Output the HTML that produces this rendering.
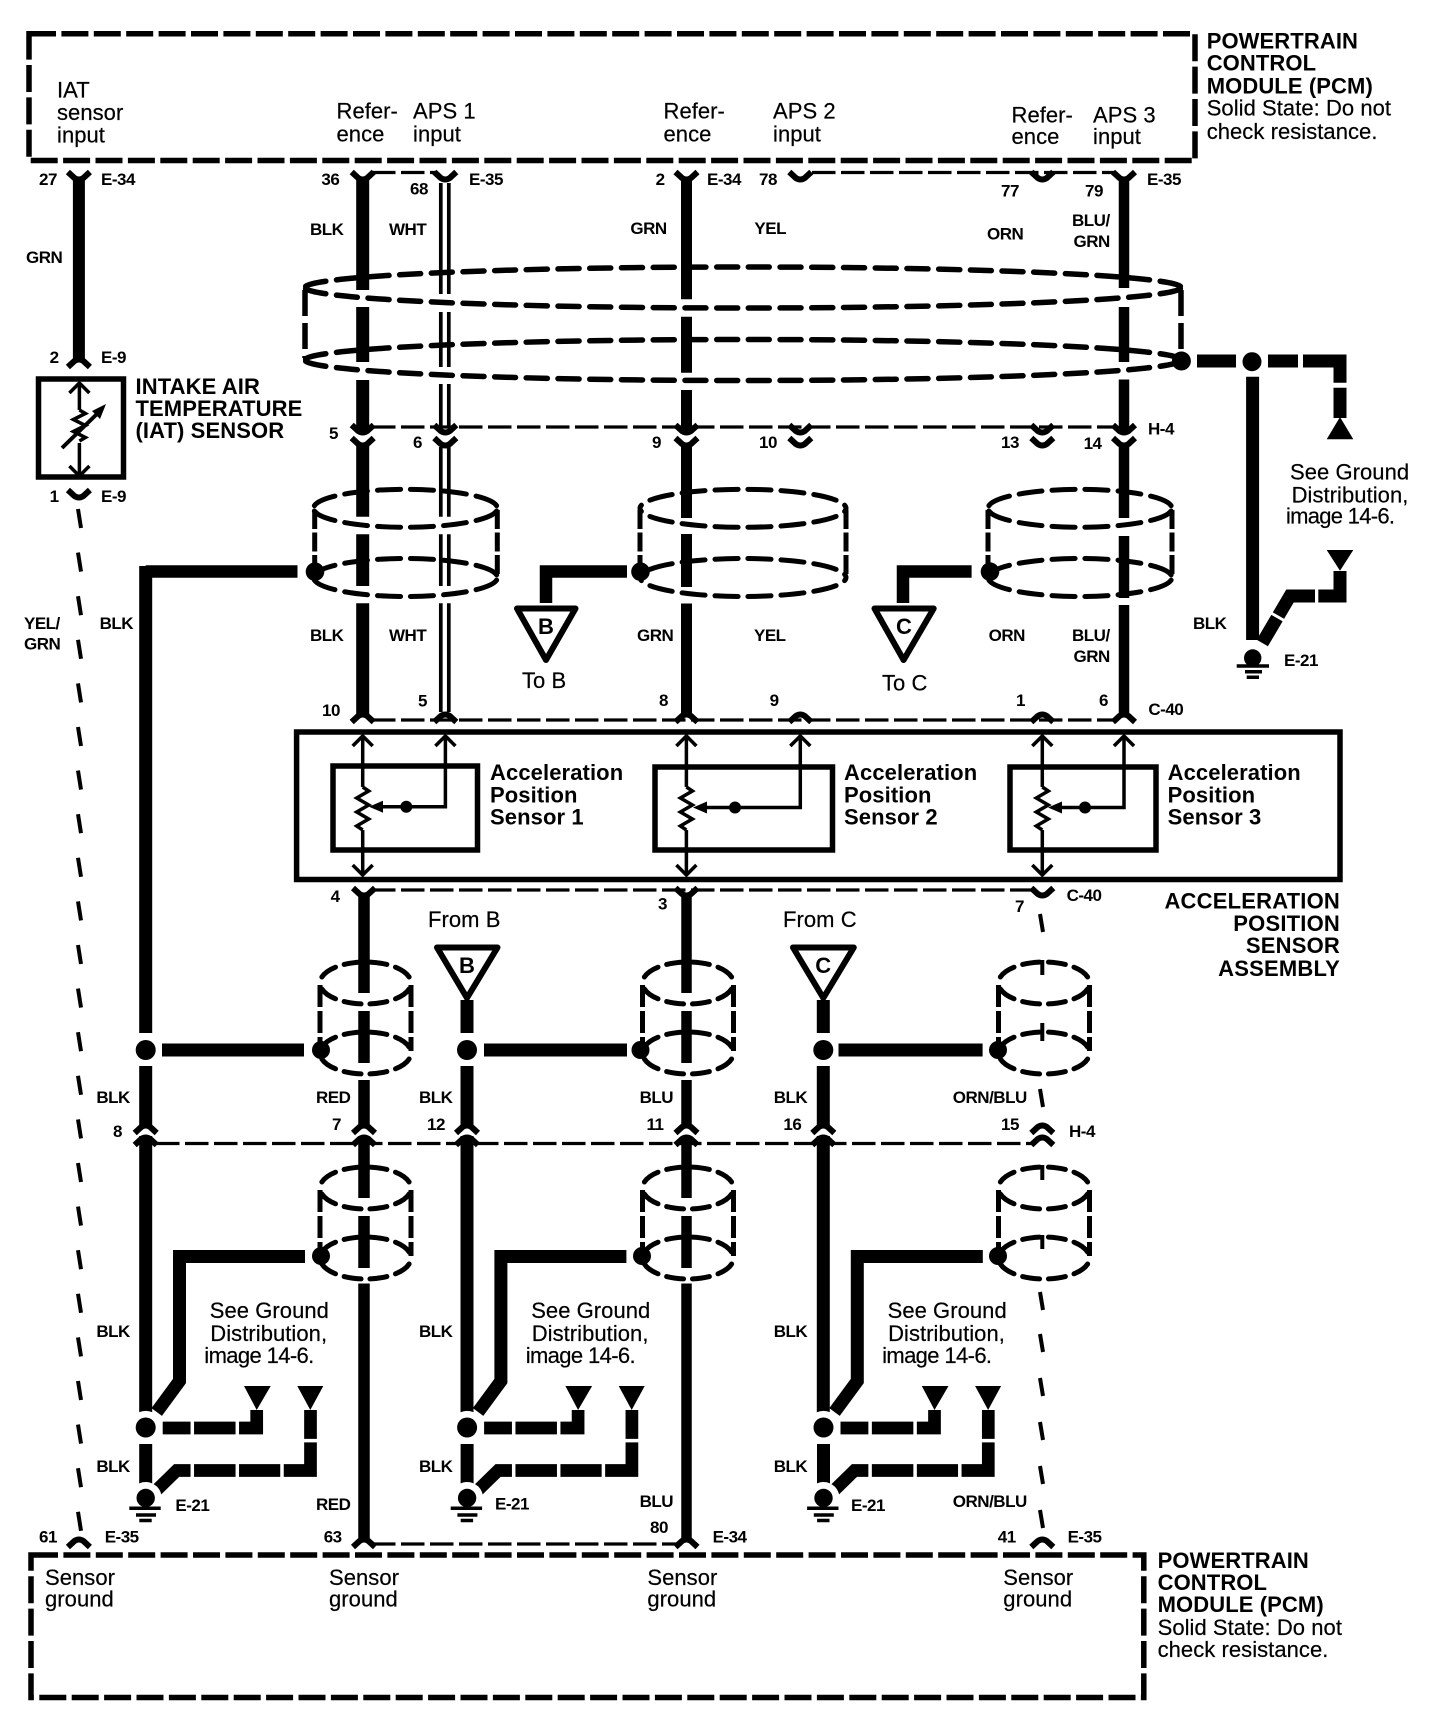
<!DOCTYPE html>
<html><head><meta charset="utf-8"><style>
html,body{margin:0;padding:0;background:#fff}
svg{display:block}
text{font-family:"Liberation Sans",Arial,sans-serif;fill:#000}
.r{font-size:22px;letter-spacing:.05px;stroke:#000;stroke-width:.2px}
.b{font-size:22px;font-weight:bold;letter-spacing:.1px}
.s{font-size:17px;font-weight:bold;letter-spacing:-.5px}
.e{text-anchor:end;letter-spacing:.2px}
.m{text-anchor:middle}
</style></head><body>
<svg xmlns="http://www.w3.org/2000/svg" width="1440" height="1728" viewBox="0 0 1440 1728">
<defs>
<path id="u" d="M-11 -1L-4.500 5Q0 8 4.500 5L11 -1" fill="none" stroke="#000" stroke-width="6"/>
<path id="n" d="M-11 1L-4.500 -5Q0 -8 4.500 -5L11 1" fill="none" stroke="#000" stroke-width="6"/>
<path id="au" d="M-10 10L0 0L10 10" fill="none" stroke="#000" stroke-width="3.500"/>
<path id="ad" d="M-10 -10L0 0L10 -10" fill="none" stroke="#000" stroke-width="3.500"/>
<path id="z" d="M0 0l6 4l-12 7l12 7l-12 7l12 7l-12 7l6 4" fill="none" stroke="#000" stroke-width="3.500"/>
<path id="ea" d="M0 -19A92 19 0 0 1 92 0M0 -19A92 19 0 0 0 -92 0M0 19A92 19 0 0 0 92 0M0 19A92 19 0 0 1 -92 0" fill="none" stroke="#000" stroke-width="5" stroke-linecap="round" stroke-dasharray="23 10" stroke-dashoffset="-5"/>
<path id="eb" d="M0 -19A103 19 0 0 1 103 0M0 -19A103 19 0 0 0 -103 0M0 19A103 19 0 0 0 103 0M0 19A103 19 0 0 1 -103 0" fill="none" stroke="#000" stroke-width="5" stroke-linecap="round" stroke-dasharray="23 10" stroke-dashoffset="-5"/>
<path id="es" d="M0 -21A45.500 21 0 0 1 45.500 0M0 -21A45.500 21 0 0 0 -45.500 0M0 21A45.500 21 0 0 0 45.500 0M0 21A45.500 21 0 0 1 -45.500 0" fill="none" stroke="#000" stroke-width="5" stroke-linecap="round" stroke-dasharray="17 9" stroke-dashoffset="-4.500"/>
<path id="el" d="M0 -20.500A438 20.500 0 0 1 438 0M0 -20.500A438 20.500 0 0 0 -438 0M0 20.500A438 20.500 0 0 0 438 0M0 20.500A438 20.500 0 0 1 -438 0" fill="none" stroke="#000" stroke-width="5.500" stroke-linecap="round" stroke-dasharray="21 10.700" stroke-dashoffset="-5.400"/>
<g id="cs">
<use href="#es"/><use href="#es" y="70"/>
<path d="M-45.500 2V68M45.500 2V68" fill="none" stroke="#000" stroke-width="5" stroke-dasharray="22 4"/>
</g>
<g id="gnd">
<path d="M305 1256.500H179.500V1381L156.700 1412" fill="none" stroke="#000" stroke-width="13"/>
<path d="M162.700 1428H256.700V1410" fill="none" stroke="#000" stroke-width="12.700"/>
<path d="M156.700 1490L176.700 1470.500H310.500V1410" fill="none" stroke="#000" stroke-width="12.700"/>
<path d="M192.300 1418V1438M237.300 1418V1438M192.300 1460V1480M237.300 1460V1480M282 1460V1480M300 1440.600H320" stroke="#fff" stroke-width="3.500" fill="none"/>
<path d="M244 1386H270.700L256.700 1410ZM297.300 1386H323.300L310.300 1410Z" fill="#000"/>
<circle cx="145.700" cy="1427.500" r="16.600" fill="#fff"/>
<circle cx="145.700" cy="1427.500" r="10" fill="#000"/>
<path d="M145.700 1444V1484" stroke="#000" stroke-width="13"/>
<circle cx="145.700" cy="1498" r="16" fill="#fff"/>
<circle cx="145.700" cy="1498" r="9.200" fill="#000"/>
<path d="M129.300 1508.300H160.700M136 1515H156M139.300 1520.500H151.700" stroke="#000" stroke-width="3.500"/>
</g>
</defs>
<rect width="1440" height="1728" fill="#fff"/>

<!-- PCM boxes -->
<rect x="29" y="33.800" width="1166" height="126.700" fill="none" stroke="#000" stroke-width="5.500" stroke-dasharray="27 5.400"/>
<rect x="31" y="1555" width="1112.800" height="142.500" fill="none" stroke="#000" stroke-width="5.500" stroke-dasharray="27 5.400"/>

<!-- thin dashed connector bars -->
<g fill="none" stroke="#000" stroke-width="3.300" stroke-dasharray="23.500 5.500">
<path d="M372 172.500H436"/>
<path d="M812 172.500H1114"/>
<path d="M372 427H1116"/>
<path d="M372 720H1114"/>
<path d="M372 890H1032"/>
<path d="M156 1143.500H1032"/>
<path d="M372 1544H676"/>
</g>

<!-- big top shield -->
<use href="#el" x="743" y="287.500"/>
<use href="#el" x="743" y="360"/>
<path d="M305 290V358M1181 290V358" fill="none" stroke="#000" stroke-width="5.500" stroke-dasharray="26 7"/>

<!-- wires upper -->
<g fill="none" stroke="#000">
<path d="M78.900 178V360" stroke-width="12"/>
<path d="M362.700 178V290M362.700 307V362M362.700 380V431M362.700 443V516.700M362.700 534.300V586M362.700 603.300V714" stroke-width="13"/>
<path d="M440.800 183V294M440.800 312V367M440.800 384V428M440.800 447V516.700M440.800 534.300V586M440.800 603.300V712M448.800 183V294M448.800 312V367M448.800 384V428M448.800 447V516.700M448.800 534.300V586M448.800 603.300V712" stroke-width="3.700"/>
<path d="M686.500 178V299.300M686.500 316.700V372.700M686.500 390V431M686.500 443V518M686.500 534V587M686.500 603.500V714" stroke-width="11"/>
<path d="M1124 178V288M1124 307V362M1124 379.500V431M1124 443V518M1124 536V598M1124 605V714" stroke-width="10.500"/>
<!-- wires lower -->
<path d="M145.700 566V1033M145.700 1066V1127M145.700 1136V1415" stroke-width="13"/>
<path d="M364 894V993M364 1011V1063M364 1080V1127M364 1136V1198M364 1216V1268M364 1283.500V1540" stroke-width="11.500"/>
<path d="M467 1000V1033M467 1066V1127M467 1136V1415" stroke-width="13"/>
<path d="M686.500 894V993M686.500 1011V1063M686.500 1080V1127M686.500 1136V1198M686.500 1216V1268M686.500 1283.500V1540" stroke-width="10.500"/>
<path d="M823.300 1000V1033M823.300 1066V1127M823.300 1136V1415" stroke-width="13"/>
<!-- thick drain wires -->
<path d="M297.500 571.500H145.700" stroke-width="12.500"/>
<path d="M627 571.500H546V603" stroke-width="12.500"/>
<path d="M971.600 571.500H903V603" stroke-width="12.500"/>
<path d="M162 1050H304M484 1050H627M838.500 1050H982.600" stroke-width="13"/>
</g>

<!-- left and right thin dashed wires -->
<path fill="none" stroke="#000" stroke-width="4" d="M78 509l3 19m-3 24.600l3 19m-3 24.600l3 19m-3 24.600l3 19m-3 24.600l3 19m-3 24.600l3 19m-3 24.600l3 19m-3 24.600l3 19m-3 24.600l3 19m-3 24.600l3 19m-3 24.600l3 19m-3 24.600l3 19m-3 24.600l3 19m-3 24.600l3 19m-3 24.600l3 19m-3 24.600l3 19m-3 24.600l3 19m-3 24.600l3 19m-3 24.600l3 19m-3 24.600l3 19m-3 24.600l3 19m-3 24.600l3 19m-3 24.600l3 19m-3 24.600l3 19"/>
<path fill="none" stroke="#000" stroke-width="4" d="M1040 914L1043 932M1040 1089L1043 1107M1040 1292L1043 1310M1040 1334L1043 1352M1040 1378L1043 1396M1040 1422L1043 1440M1040 1466L1043 1484M1040 1510L1043 1528M1042.300 960V975M1042.300 1023V1041M1042.300 1165V1180M1042.300 1235V1249"/>

<!-- top row cylinders -->
<use href="#ea" x="405.500" y="508.300"/><use href="#ea" x="405.500" y="577.500"/>
<use href="#eb" x="743" y="508.300"/><use href="#eb" x="743" y="577.500"/>
<use href="#ea" x="1080" y="508.300"/><use href="#ea" x="1080" y="577.500"/>
<path d="M314.700 510V576M497.300 510V576M640 510V576M846 510V576M988 510V576M1172 510V576" fill="none" stroke="#000" stroke-width="5" stroke-dasharray="19 3.500"/>
<circle cx="315" cy="571.700" r="9.300" fill="#000"/>
<circle cx="640.500" cy="571.700" r="9.300" fill="#000"/>
<circle cx="990" cy="571.700" r="9.300" fill="#000"/>

<!-- lower cylinders -->
<use href="#cs" x="365.500" y="983"/>
<use href="#cs" x="688" y="983"/>
<use href="#cs" x="1044" y="983"/>
<use href="#cs" x="365.500" y="1188"/>
<use href="#cs" x="688" y="1188"/>
<use href="#cs" x="1044" y="1188"/>
<g fill="#000">
<circle cx="321" cy="1050" r="9"/><circle cx="640.500" cy="1050" r="9"/><circle cx="998" cy="1050" r="9"/>
<circle cx="321" cy="1256" r="9"/><circle cx="642" cy="1256" r="9"/><circle cx="998" cy="1256" r="9"/>
<circle cx="145.700" cy="1050" r="10"/>
<circle cx="467" cy="1050" r="10"/>
<circle cx="823.300" cy="1050" r="10"/>
</g>

<!-- connectors -->
<use href="#u" x="78.900" y="173"/><use href="#u" x="362.700" y="173"/><use href="#u" x="445.300" y="173"/><use href="#u" x="686.500" y="173"/><use href="#u" x="800.300" y="173"/><use href="#u" x="1042.300" y="173"/><use href="#u" x="1124" y="173"/>
<use href="#n" x="78.900" y="366"/>
<use href="#u" x="78.900" y="491"/>
<use href="#u" x="362.700" y="426"/><use href="#u" x="362.700" y="439"/><use href="#u" x="445.300" y="426"/><use href="#u" x="445.300" y="439"/><use href="#u" x="686.500" y="426"/><use href="#u" x="686.500" y="439"/><use href="#u" x="800.300" y="426"/><use href="#u" x="800.300" y="439"/><use href="#u" x="1042.300" y="426"/><use href="#u" x="1042.300" y="439"/><use href="#u" x="1124" y="426"/><use href="#u" x="1124" y="439"/>
<use href="#n" x="362.700" y="721"/><use href="#n" x="445.300" y="721"/><use href="#n" x="686.500" y="721"/><use href="#n" x="800.300" y="721"/><use href="#n" x="1042.300" y="721"/><use href="#n" x="1124" y="721"/>
<use href="#u" x="364" y="889"/><use href="#u" x="686.500" y="889"/><use href="#u" x="1042.300" y="889"/>
<use href="#n" x="145.700" y="1132"/><use href="#n" x="145.700" y="1144"/><use href="#n" x="364" y="1132"/><use href="#n" x="364" y="1144"/><use href="#n" x="467" y="1132"/><use href="#n" x="467" y="1144"/><use href="#n" x="686.500" y="1132"/><use href="#n" x="686.500" y="1144"/><use href="#n" x="823.300" y="1132"/><use href="#n" x="823.300" y="1144"/><use href="#n" x="1042.300" y="1132"/><use href="#n" x="1042.300" y="1144"/>
<use href="#n" x="78.900" y="1546"/><use href="#n" x="364" y="1546"/><use href="#n" x="686.500" y="1546"/><use href="#n" x="1042.300" y="1546"/>

<!-- IAT sensor -->
<rect x="38.500" y="379" width="85" height="98" fill="none" stroke="#000" stroke-width="5.500"/>
<path d="M79.400 383V410M79.400 443V476" stroke="#000" stroke-width="3.500"/>
<use href="#au" x="79.400" y="383"/><use href="#ad" x="79.400" y="476"/>
<path d="M79.400 410l6 3.500l-12 6l12 6l-12 6l12 6l-6 3.500" fill="none" stroke="#000" stroke-width="3.500"/>
<path d="M62 448L101 410" stroke="#000" stroke-width="4"/>
<path d="M106 404L92 411L100 419Z" fill="#000"/>

<!-- sensor assembly -->
<rect x="296.600" y="732" width="1043.400" height="147.500" fill="none" stroke="#000" stroke-width="5.500"/>
<rect x="333" y="766" width="144.500" height="84" fill="none" stroke="#000" stroke-width="5.500"/>
<rect x="655" y="767" width="177.500" height="83" fill="none" stroke="#000" stroke-width="5.500"/>
<rect x="1010" y="767" width="146" height="83" fill="none" stroke="#000" stroke-width="5.500"/>
<g fill="none" stroke="#000" stroke-width="3.500">
<path d="M362.700 736V787M362.700 830V875M445.400 736V806.700H376"/>
<path d="M686.400 736V787M686.400 830V875M800.300 736V807.500H700"/>
<path d="M1042.300 736V787M1042.300 830V875M1124 736V807.500H1056"/>
</g>
<use href="#z" x="362.700" y="787"/><use href="#z" x="686.400" y="787"/><use href="#z" x="1042.300" y="787"/>
<use href="#au" x="362.700" y="736"/><use href="#au" x="445.400" y="736"/><use href="#au" x="686.400" y="736"/><use href="#au" x="800.300" y="736"/><use href="#au" x="1042.300" y="736"/><use href="#au" x="1124" y="736"/>
<use href="#ad" x="362.700" y="875"/><use href="#ad" x="686.400" y="875"/><use href="#ad" x="1042.300" y="875"/>
<g fill="#000">
<path d="M369 806.700L383 800.700V812.700Z"/><path d="M693 807.500L707 801.500V813.500Z"/><path d="M1048 807.500L1062 801.500V813.500Z"/>
<circle cx="406.300" cy="806.700" r="6"/><circle cx="735" cy="807.500" r="6"/><circle cx="1085" cy="807.500" r="6"/>
</g>

<!-- off-page triangles -->
<g fill="#fff" stroke="#000" stroke-width="6" stroke-linejoin="round">
<path d="M517 608.500H575.500L546 660Z"/>
<path d="M874.500 608.500H933.700L903.600 660Z"/>
<path d="M437 947.500H497.500L467 998Z"/>
<path d="M793 947.500H853.800L823.300 998Z"/>
</g>

<!-- right top ground -->
<g fill="none" stroke="#000">
<path d="M1197 361H1236M1268 361H1298M1303 361H1340V382.700M1340 387.700V418" stroke-width="13"/>
<path d="M1252.600 376.700V640" stroke-width="13"/>
<path d="M1340 571V596H1318.300M1315 596H1290L1262.300 643" stroke-width="13"/>
<path d="M1271 613L1285 621" stroke="#fff" stroke-width="3"/>
</g>
<g fill="#000">
<circle cx="1181.400" cy="361" r="9.500"/>
<circle cx="1252" cy="361.700" r="9.500"/>
<path d="M1340 417L1353.300 439.300H1326.700Z"/>
<path d="M1326.700 550H1353.300L1340 570.700Z"/>
</g>
<circle cx="1252.700" cy="658" r="16.500" fill="#fff"/>
<circle cx="1252.700" cy="658" r="8.700" fill="#000"/>
<path d="M1236.700 666H1269M1245 671.700H1262M1246.700 677.300H1259" stroke="#000" stroke-width="3.500"/>

<!-- ground groups -->
<use href="#gnd"/>
<use href="#gnd" transform="translate(321.400 0)"/>
<use href="#gnd" transform="translate(677.800 0)"/>

<!-- regular text -->
<g class="r">
<text x="57" y="97.400">IAT</text><text x="57" y="120">sensor</text><text x="57" y="142.500">input</text>
<text x="336.500" y="118.700">Refer-</text><text x="336.500" y="141.500">ence</text>
<text x="413" y="118.700">APS 1</text><text x="413" y="141.500">input</text>
<text x="663.500" y="118.700">Refer-</text><text x="663.500" y="141.500">ence</text>
<text x="773" y="118.700">APS 2</text><text x="773" y="141.500">input</text>
<text x="1011.500" y="122.300">Refer-</text><text x="1011.500" y="144">ence</text>
<text x="1093" y="122.300">APS 3</text><text x="1093" y="144">input</text>
<text x="1206.700" y="115.700">Solid State: Do not</text><text x="1206.700" y="138.900">check resistance.</text>
<text x="1290" y="479.400">See Ground</text><text x="1291.600" y="502.600">Distribution,</text><text x="1286" y="523.500" textLength="109">image 14-6.</text>
<text x="522" y="688">To B</text><text x="882" y="690.600">To C</text>
<text x="428" y="927">From B</text><text x="783" y="927">From C</text>
<text x="209.800" y="1318">See Ground</text><text x="210.300" y="1341">Distribution,</text><text x="204.300" y="1363" textLength="110">image 14-6.</text>
<text x="531.200" y="1318">See Ground</text><text x="531.700" y="1341">Distribution,</text><text x="525.700" y="1363" textLength="110">image 14-6.</text>
<text x="887.600" y="1318">See Ground</text><text x="888.100" y="1341">Distribution,</text><text x="882.100" y="1363" textLength="110">image 14-6.</text>
<text x="45" y="1585">Sensor</text><text x="45" y="1606.500">ground</text>
<text x="329" y="1585">Sensor</text><text x="329" y="1606.500">ground</text>
<text x="647.400" y="1585">Sensor</text><text x="647.400" y="1606.500">ground</text>
<text x="1003.300" y="1585">Sensor</text><text x="1003.300" y="1606.500">ground</text>
<text x="1157.600" y="1635">Solid State: Do not</text><text x="1157.600" y="1657">check resistance.</text>
</g>

<!-- bold text -->
<g class="b">
<text x="1206.700" y="48.500">POWERTRAIN</text><text x="1206.700" y="70.500">CONTROL</text><text x="1206.700" y="93.700">MODULE (PCM)</text>
<text x="135.500" y="394">INTAKE AIR</text><text x="135.500" y="416">TEMPERATURE</text><text x="135.500" y="438">(IAT) SENSOR</text>
<text x="490" y="780">Acceleration</text><text x="490" y="802.700">Position</text><text x="490" y="824.700">Sensor 1</text>
<text x="844" y="780">Acceleration</text><text x="844" y="802.700">Position</text><text x="844" y="824.700">Sensor 2</text>
<text x="1167.600" y="780">Acceleration</text><text x="1167.600" y="802.700">Position</text><text x="1167.600" y="824.700">Sensor 3</text>
<text class="e" x="1340" y="908.500">ACCELERATION</text><text class="e" x="1340" y="931">POSITION</text><text class="e" x="1340" y="953">SENSOR</text><text class="e" x="1340" y="976">ASSEMBLY</text>
<text x="1157.600" y="1568">POWERTRAIN</text><text x="1157.600" y="1590">CONTROL</text><text x="1157.600" y="1612">MODULE (PCM)</text>
<text class="m" x="546" y="634">B</text><text class="m" x="904" y="634">C</text><text class="m" x="467" y="973">B</text><text class="m" x="823.300" y="973">C</text>
</g>

<!-- small labels -->
<g class="s">
<text x="39" y="184.800">27</text><text x="101" y="184.800">E-34</text><text x="321.400" y="184.800">36</text><text x="469" y="184.800">E-35</text><text x="410" y="194.700">68</text>
<text x="655.600" y="184.800">2</text><text x="707" y="184.800">E-34</text><text x="759" y="184.800">78</text><text x="1001" y="196.500">77</text><text x="1085" y="196.500">79</text><text x="1147" y="184.800">E-35</text>
<text x="310" y="235">BLK</text><text x="389" y="235">WHT</text><text x="26" y="263">GRN</text><text x="630.400" y="234">GRN</text><text x="754.400" y="234">YEL</text><text x="987" y="239.500">ORN</text><text x="1072" y="226">BLU/</text><text x="1073.500" y="247">GRN</text>
<text x="49.600" y="363">2</text><text x="101" y="363">E-9</text><text x="49.600" y="502">1</text><text x="101" y="502">E-9</text>
<text x="329" y="439">5</text><text x="413" y="448">6</text><text x="652" y="448">9</text><text x="759" y="448">10</text><text x="1001" y="448">13</text><text x="1083.600" y="449">14</text><text x="1148" y="434.600">H-4</text>
<text x="24" y="629">YEL/</text><text x="24" y="649.500">GRN</text><text x="99.600" y="629">BLK</text><text x="310" y="641">BLK</text><text x="389" y="641">WHT</text><text x="637" y="641">GRN</text><text x="754" y="641">YEL</text><text x="988.600" y="641">ORN</text><text x="1072" y="641">BLU/</text><text x="1073.500" y="662">GRN</text>
<text x="1193" y="629">BLK</text><text x="1284" y="666">E-21</text>
<text x="322" y="716">10</text><text x="418" y="706.400">5</text><text x="659" y="706">8</text><text x="769.600" y="706">9</text><text x="1016" y="706">1</text><text x="1099" y="706">6</text><text x="1148.400" y="715">C-40</text>
<text x="330.600" y="902">4</text><text x="658" y="909.600">3</text><text x="1015" y="912">7</text><text x="1066.600" y="901">C-40</text>
<text x="96.400" y="1103">BLK</text><text x="316" y="1103">RED</text><text x="419" y="1103">BLK</text><text x="639.600" y="1103">BLU</text><text x="773.700" y="1103">BLK</text><text x="952.800" y="1103">ORN/BLU</text>
<text x="113" y="1137">8</text><text x="332" y="1130">7</text><text x="427" y="1130">12</text><text x="646.500" y="1130">11</text><text x="783.400" y="1130">16</text><text x="1001" y="1130">15</text><text x="1069" y="1137">H-4</text>
<text x="96.400" y="1337">BLK</text><text x="419" y="1337">BLK</text><text x="773.700" y="1337">BLK</text>
<text x="96.400" y="1472">BLK</text><text x="419" y="1472">BLK</text><text x="773.700" y="1472">BLK</text>
<text x="175.400" y="1511">E-21</text><text x="495" y="1509.500">E-21</text><text x="851" y="1511">E-21</text>
<text x="316" y="1510">RED</text><text x="639.600" y="1507">BLU</text><text x="650" y="1533">80</text><text x="952.800" y="1507">ORN/BLU</text>
<text x="39" y="1542.500">61</text><text x="104.700" y="1542.500">E-35</text><text x="323.700" y="1542.500">63</text><text x="712.600" y="1542.500">E-34</text><text x="997.800" y="1542.500">41</text><text x="1067.600" y="1542.500">E-35</text>
</g>
</svg>
</body></html>
